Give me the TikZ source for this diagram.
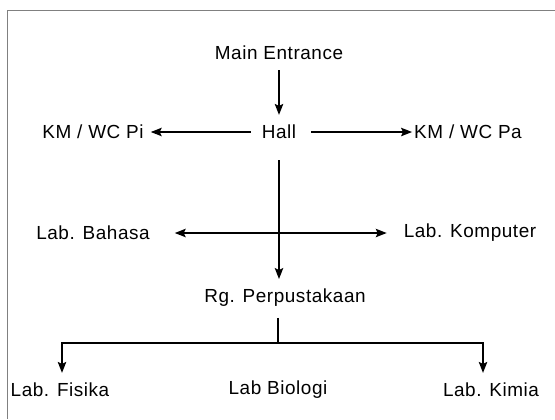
\documentclass[tikz,border=0pt]{standalone}
\usepackage{fontspec}
\setmainfont{Liberation Sans}[LetterSpace=3]
\usetikzlibrary{positioning, arrows.meta}

\begin{document}
\begin{tikzpicture}[
  x=1bp, y=-1bp,
  node distance=1cm, on grid,
  >={Stealth[length=11pt, width=8.5pt, inset=2pt]},
  room/.style={inner sep=0pt, font=\fontsize{19}{21}\selectfont},
  link/.style={line width=1.4pt},
  frame/.style={draw=gray, line width=0.6pt}
]
  \useasboundingbox (0,0) rectangle (555,419);
  \draw[frame] (7,419) -- (7,10) -- (555,10);

  \node[room] (main) at (279,53) {Main Entrance};
  \node[room, below=79bp of main] (hall) {Hall};
  \node[room, left=186bp of hall] (wcpi) {KM / WC Pi};
  \node[room, right=189bp of hall] (wcpa) {KM / WC Pa};
  \node[room, below=101bp of wcpi] (bahasa) {Lab. Bahasa};
  \node[room, right=377bp of bahasa] (komputer) {Lab. Komputer};
  \node[room, below=166bp of hall, xshift=6bp] (pustaka) {Rg. Perpustakaan};
  \node[room, below=92bp of pustaka, xshift=-7bp] (biologi) {Lab Biologi};
  \node[room, left=218bp of biologi] (fisika) {Lab. Fisika};
  \node[room, right=213bp of biologi] (kimia) {Lab. Kimia};
  \coordinate[below=45bp of pustaka, xshift=-7bp] (split);

  \draw[link, ->, shorten <=10pt, shorten >=10pt] (main) -- (hall);
  \draw[link, ->, shorten <=11pt, shorten >=7pt] (hall) -- (wcpi);
  \draw[link, ->, shorten <=15pt, shorten >=2pt] (hall) -- (wcpa);
  \draw[link, <->, shorten <=25pt, shorten >=17pt] (bahasa) -- (komputer);
  \draw[link, ->, shorten <=21pt, shorten >=10pt] (hall.south) -- (hall.south |- pustaka.north);
  \draw[link, shorten <=11pt] (split |- pustaka.south) -- (split);
  \draw[link, ->, shorten >=10pt] (split) -| ([xshift=2bp]fisika.north);
  \draw[link, ->, shorten >=10pt] (split) -| ([xshift=-8bp]kimia.north);
\end{tikzpicture}
\end{document}
